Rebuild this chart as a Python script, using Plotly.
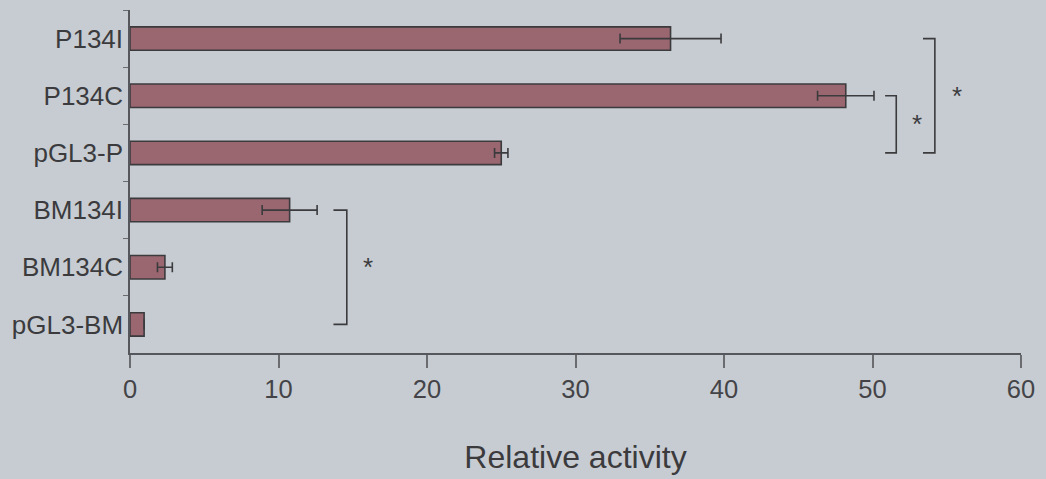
import plotly.graph_objects as go

# Promoter constructs, listed top to bottom
constructs = ["P134I", "P134C", "pGL3-P", "BM134I", "BM134C", "pGL3-BM"]
activity = [36.4, 48.2, 25.0, 10.75, 2.35, 0.95]
err = [3.4, 1.9, 0.45, 1.85, 0.5, 0.0]

# Significance brackets: (x of vertical line, x of tick ends, first row, last row, star x)
brackets = [
    (14.6, 13.7, 3, 5, 16.0),
    (51.6, 50.85, 1, 2, 53.0),
    (54.2, 53.4, 0, 2, 55.7),
]

BG = "#c7ccd2"
BAR = "#9a6670"
INK = "#3b3b3e"
FONT = "Arial, Liberation Sans, sans-serif"

fig = go.Figure()
fig.add_trace(go.Bar(
    y=constructs,
    x=activity,
    orientation="h",
    marker=dict(color=BAR, line=dict(color=INK, width=1.6)),
    error_x=dict(type="data", array=err, visible=True, color=INK, thickness=1.6, width=5),
    width=0.41,
    showlegend=False,
))

shapes = []
annotations = []
for xv, xt, r0, r1, sx in brackets:
    path = f"M {xt},{r0} L {xv},{r0} L {xv},{r1} L {xt},{r1}"
    shapes.append(dict(type="path", path=path, xref="x", yref="y",
                       line=dict(color=INK, width=1.6)))
    annotations.append(dict(x=sx, y=(r0 + r1) / 2, xref="x", yref="y",
                            text="*", showarrow=False,
                            font=dict(family=FONT, size=26, color=INK)))

fig.update_layout(
    width=1046, height=479,
    margin=dict(l=130, r=25, t=10, b=126),
    paper_bgcolor=BG, plot_bgcolor=BG,
    font=dict(family=FONT, color=INK, size=26),
    shapes=shapes,
    annotations=annotations,
    xaxis=dict(
        range=[0, 60], tickvals=[0, 10, 20, 30, 40, 50, 60],
        showgrid=False, zeroline=False, automargin=False,
        showline=True, linecolor="#55575c", linewidth=1.5,
        ticks="outside", ticklen=13, tickwidth=1.5, tickcolor="#6a6c70",
        tickfont=dict(size=25.5, color="#444448"),
        title=dict(text="Relative activity", standoff=43,
                   font=dict(size=32, color=INK)),
    ),
    yaxis=dict(
        type="category", categoryorder="array", categoryarray=constructs,
        range=[5.5, -0.5], automargin=False,
        showgrid=False, zeroline=False,
        showline=True, linecolor="#55575c", linewidth=1.5,
        ticks="outside", tickson="boundaries", ticklen=5, tickwidth=1.2,
        tickcolor="#6a6c70",
        tickfont=dict(size=26, color=INK),
    ),
)

fig.write_html("out.html")
